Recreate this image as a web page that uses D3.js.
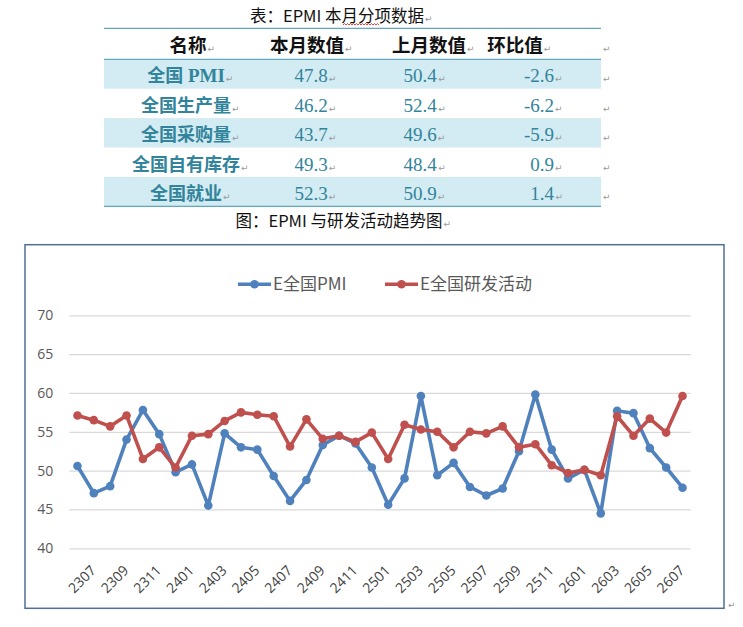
<!DOCTYPE html>
<html><head><meta charset="utf-8">
<script src="https://cdn.jsdelivr.net/npm/d3@7/dist/d3.min.js"></script>
<style>
html,body{margin:0;padding:0;background:#fff;}
svg{display:block;}
</style></head>
<body>
<svg id="c" width="743" height="627"></svg>
<script>
// ---------- DATA ----------
const tableTitle = "表：EPMI 本月分项数据";
const chartCaption = "图：EPMI 与研发活动趋势图";
const tableHeaders = ["名称", "本月数值", "上月数值", "环比值"];
const rowNames = ["全国 PMI", "全国生产量", "全国采购量", "全国自有库存", "全国就业"];
const curVals = ["47.8", "46.2", "43.7", "49.3", "52.3"];
const prevVals = ["50.4", "52.4", "49.6", "48.4", "50.9"];
const changeVals = ["-2.6", "-6.2", "-5.9", "0.9", "1.4"];

const categories = ["2306","2307","2308","2309","2310","2311","2312",
  "2401","2402","2403","2404","2405","2406","2407","2408","2409","2410","2411","2412",
  "2501","2502","2503","2504","2505","2506","2507","2508","2509","2510","2511","2512",
  "2601","2602","2603","2604","2605","2606","2607"];
const pmiSeries = [50.6,47.1,48.0,54.0,57.8,54.7,49.8,
  50.8,45.5,54.8,53.0,52.7,49.3,46.1,48.8,53.3,54.5,53.5,50.4,
  45.6,49.0,59.6,49.4,51.0,47.9,46.8,47.7,52.5,59.8,52.7,49.0,
  50.1,44.5,57.7,57.4,52.9,50.4,47.8];
const rdSeries = [57.1,56.5,55.7,57.1,51.5,53.0,50.4,
  54.5,54.7,56.4,57.5,57.2,57.0,53.1,56.6,54.1,54.5,53.7,54.9,
  51.5,55.9,55.3,55.0,53.0,55.0,54.8,55.7,53.0,53.4,50.7,49.7,
  50.1,49.4,57.0,54.5,56.7,54.9,59.6];
const seriesNames = ["E全国PMI", "E全国研发活动"];
const yTicks = [40,45,50,55,60,65,70];
const xTickLabels = ["2307","2309","2311","2401","2403","2405","2407","2409","2411",
  "2501","2503","2505","2507","2509","2511","2601","2603","2605","2607"];

// ---------- STYLE ----------
const cjk = "'Noto Sans CJK SC','Noto Sans',sans-serif";
const serif = "'Liberation Serif','DejaVu Serif',serif";
const teal = "#31849B";
const shade = "#D3EBF2";
const lineTeal = "#62A9BE";
const markColor = "#9a9a9a";
const blue = "#4F81BD", red = "#C0504D";

const svg = d3.select("#c");

function mark(x, y) {
  svg.append("text").attr("x", x).attr("y", y)
    .attr("font-family", "'DejaVu Sans',sans-serif").attr("font-size", 9)
    .attr("fill", markColor).text("↵");
}
function textWithMark(x, y, str, opts) {
  const t = svg.append("text").attr("x", x).attr("y", y)
    .attr("text-anchor", opts.anchor || "middle")
    .attr("font-family", opts.family).attr("font-size", opts.size)
    .attr("font-weight", opts.weight || "normal")
    .attr("fill", opts.fill).text(str);
  const bb = t.node().getBBox();
  mark(bb.x + bb.width + 1, y);
  return t;
}

// ---------- TABLE ----------
const tblX0 = 104, tblX1 = 601;
const headerTop = 28.3, rowTop = 59.3, rowH = 29.4;

// title
textWithMark(337, 22, tableTitle, {family: cjk, size: 16.5, fill: "#111"});
// spell-check wavy underline under 月分
(function(){
  let p = "M343,25";
  for (let x = 343; x < 379; x += 3) p += ` L${x+1.5},23.5 L${x+3},25`;
  svg.append("path").attr("d", p).attr("fill","none").attr("stroke","#e03030").attr("stroke-width",0.9);
})();

// shaded rows
rowNames.forEach((n, i) => {
  if (i % 2 === 0) {
    svg.append("rect").attr("x", tblX0).attr("y", rowTop + i*rowH)
      .attr("width", tblX1 - tblX0).attr("height", rowH).attr("fill", shade);
  }
});
// borders
[headerTop, rowTop, rowTop + rowNames.length*rowH].forEach(y => {
  svg.append("line").attr("x1", tblX0).attr("x2", tblX1).attr("y1", y).attr("y2", y)
    .attr("stroke", lineTeal).attr("stroke-width", 1.3);
});

const colHeaderX = [188, 307, 429, 515];
tableHeaders.forEach((h, i) => {
  textWithMark(colHeaderX[i], 52, h, {family: cjk, size: 18.5, weight: "bold", fill: "#111"});
});
mark(603, 52);

rowNames.forEach((n, i) => {
  const y = rowTop + i*rowH + 23;
  const t = svg.append("text").attr("x", 186).attr("y", y).attr("text-anchor", "middle")
    .attr("font-weight", "bold").attr("fill", teal).attr("font-size", 18);
  const m = n.match(/^([^ A-Za-z]+)( ?)([A-Za-z]*)$/);
  t.append("tspan").attr("font-family", cjk).text(m[1]);
  if (m[3]) t.append("tspan").attr("font-family", serif).attr("font-size", 19).text(" " + m[3]);
  const bb = t.node().getBBox();
  mark(bb.x + bb.width + 1, y);

  textWithMark(311, y, curVals[i], {family: serif, size: 19, fill: teal});
  textWithMark(420, y, prevVals[i], {family: serif, size: 19, fill: teal});
  textWithMark(554, y, changeVals[i], {family: serif, size: 19, fill: teal, anchor: "end"});
  mark(603, y);
});

// caption
textWithMark(339, 227, chartCaption, {family: cjk, size: 16.5, fill: "#111"});

// ---------- CHART ----------
svg.append("rect").attr("x", 25).attr("y", 244.7).attr("width", 699).attr("height", 363.6)
  .attr("fill", "none").attr("stroke", "#4F6F93").attr("stroke-width", 1.5);
mark(728, 608);

const plotL = 69.3, plotR = 690.7, plotT = 315.3, plotB = 548.3;
const x = d3.scaleBand().domain(categories).range([plotL, plotR]).padding(0);
const xc = c => x(c) + x.bandwidth()/2;
const y = d3.scaleLinear().domain([40, 70]).range([plotB, plotT]);

// y axis with gridlines
const gy = svg.append("g").attr("transform", `translate(${plotL},0)`)
  .call(d3.axisLeft(y).tickValues(yTicks).tickSize(-(plotR - plotL)).tickPadding(16).tickFormat(d3.format("d")));
gy.select(".domain").remove();
gy.selectAll(".tick line").attr("stroke", "#D9D9D9").attr("stroke-width", 1.2);
gy.selectAll(".tick text").attr("fill", "#595959").attr("font-size", 14)
  .attr("font-family", "'Open Sans','Noto Sans',sans-serif");

// x axis labels
const gx = svg.append("g").attr("transform", `translate(0,${plotB})`)
  .call(d3.axisBottom(x).tickValues(xTickLabels).tickSize(0).tickPadding(0));
gx.select(".domain").remove();
gx.selectAll(".tick text")
  .attr("fill", "#404040").attr("font-size", 14)
  .attr("font-family", "'Open Sans','Noto Sans',sans-serif")
  .attr("text-anchor", "end")
  .attr("dy", null).attr("y", null)
  .attr("transform", "translate(3,23) rotate(-45)");

// lines
const series = [
  {name: seriesNames[0], vals: pmiSeries, color: blue},
  {name: seriesNames[1], vals: rdSeries, color: red}
];
const line = d3.line().x((d, i) => xc(categories[i])).y(d => y(d));
series.forEach(s => {
  const g = svg.append("g");
  g.append("path").attr("d", line(s.vals)).attr("fill", "none")
    .attr("stroke", s.color).attr("stroke-width", 3.6).attr("stroke-linejoin", "round");
  g.selectAll("circle").data(s.vals).join("circle")
    .attr("cx", (d, i) => xc(categories[i])).attr("cy", d => y(d))
    .attr("r", 4.3).attr("fill", s.color);
});

// legend
const legendX = [238, 385];
series.forEach((s, i) => {
  const lx = legendX[i], ly = 284.3;
  svg.append("line").attr("x1", lx).attr("x2", lx + 33).attr("y1", ly).attr("y2", ly)
    .attr("stroke", s.color).attr("stroke-width", 3.6);
  svg.append("circle").attr("cx", lx + 16.5).attr("cy", ly).attr("r", 4.3).attr("fill", s.color);
  svg.append("text").attr("x", lx + 35).attr("y", ly + 6)
    .attr("font-family", cjk).attr("font-size", 17).attr("fill", "#595959").text(s.name);
});
</script>
</body></html>
